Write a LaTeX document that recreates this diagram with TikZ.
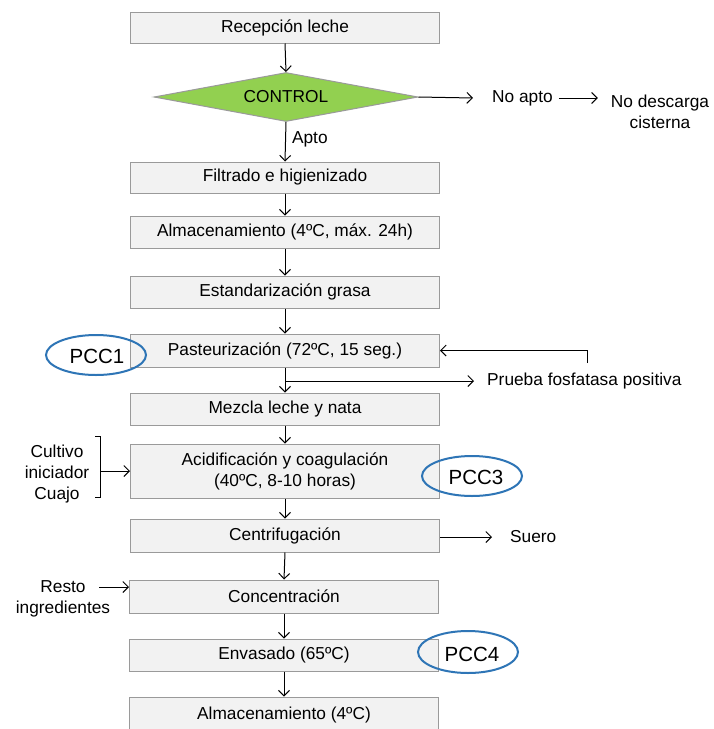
\documentclass[tikz,border=0pt]{standalone}
\usepackage{fontspec}
\setmainfont{Liberation Sans}
\usetikzlibrary{shapes.geometric,arrows.meta}
\definecolor{boxfill}{HTML}{F2F2F2}
\definecolor{boxline}{HTML}{9A9A9A}
\definecolor{ctrlgreen}{HTML}{92D050}
\definecolor{pccblue}{HTML}{2E75B6}
\tikzset{
  txt/.style={font=\fontsize{17.3}{21}\selectfont, inner sep=0pt, align=center},
  stepbox/.style={txt, rectangle, draw=boxline, line width=1pt, fill=boxfill,
    minimum width=309pt},
  arr/.style={line width=1pt, -{Straight Barb[length=5.5pt,width=11pt,line width=1pt]}},
  ln/.style={line width=1pt},
  pcc/.style={ellipse, draw=pccblue, line width=2pt, minimum width=100pt,
    minimum height=40pt, inner sep=0pt},
  pcctxt/.style={font=\fontsize{20.5}{24}\selectfont, inner sep=0pt}
}
\begin{document}
\begin{tikzpicture}[x=1pt,y=-1pt]
\clip (0,0) rectangle (713,729);
\fill[white] (0,0) rectangle (713,729);

% main process column
\node[stepbox, minimum height=31pt] (rec) at (285,27.5) {Recepción leche};
\node[txt, diamond, draw=boxline, line width=1pt, fill=ctrlgreen, aspect=5.5,
  minimum width=264pt, minimum height=49pt] (ctrl) at (286,97) {CONTROL};
\node[stepbox, minimum height=31pt] (filt) at (285,177.5) {Filtrado e higienizado};
\node[stepbox, minimum height=32pt] (alm1) at (285,232) {Almacenamiento (4ºC, máx. 24h)};
\node[stepbox, minimum height=32pt] (est) at (285,292) {Estandarización grasa};
\node[stepbox, minimum height=33pt] (past) at (285,350.5) {Pasteurización (72ºC, 15 seg.)};
\node[stepbox, minimum height=32pt] (mez) at (285,409) {Mezcla leche y nata};
\node[stepbox, minimum height=54pt] (acid) at (285,471) {Acidificación y coagulación\\(40ºC, 8-10 horas)};
\node[stepbox, minimum height=33pt] (cent) at (285,535.5) {Centrifugación};
\node[stepbox, minimum height=33pt] (conc) at (284,596.5) {Concentración};
\node[stepbox, minimum height=32pt] (env) at (284,655) {Envasado (65ºC)};
\node[stepbox, minimum height=42pt] (alm2) at (284,718) {};
\node[txt] (alm2t) at (284,715) {Almacenamiento (4ºC)};

% flow arrows
\draw[arr] (rec.south) -- (ctrl.north);
\draw[arr] (ctrl.south) -- node[txt, anchor=west, xshift=6pt, pos=0.45] (apto) {Apto} (filt.north);
\draw[arr] (filt.south) -- (alm1.north);
\draw[arr] (alm1.south) -- (est.north);
\draw[arr] (est.south) -- (past.north);
\draw[arr] (past.south) -- (mez.north);
\draw[arr] (mez.south) -- (acid.north);
\draw[arr] (acid.south) -- (cent.north);
\draw[arr] (cent.south) -- (conc.north);
\draw[arr] (conc.south) -- (env.north);
\draw[arr] (env.south) -- (alm2.north);

% rejection branch
\node[txt, anchor=west] (napto) at (492,98) {No apto};
\node[txt] (ndesc) at (660,112) {No descarga\\cisterna};
\draw[arr] (ctrl.east) -- ([xshift=-19pt]napto.west);
\draw[arr] ([xshift=6pt]napto.east) -- ([xshift=-13pt]ndesc.west |- napto.east);

% phosphatase test and reprocessing loop
\node[txt, anchor=west] (prueba) at (487,381) {Prueba fosfatasa positiva};
\coordinate (pbranch) at (285,381);
\draw[arr] (pbranch) -- ([xshift=-13pt]prueba.west);
\coordinate (fb) at (587,363);
\draw[arr] (fb) |- (past.east);

% whey output
\node[txt, anchor=west] (suero) at (510,537) {Suero};
\draw[arr] (cent.east |- suero.west) -- ([xshift=-18pt]suero.west);

% cultures and rennet input
\node[txt] (cult) at (57,474) {Cultivo\\iniciador\\Cuajo};
\coordinate (brt) at (95,436);
\coordinate (brb) at (95,497);
\coordinate (brm) at (100,471);
\draw[ln] (brt) -- ++(5,0) -- ++(0,61) -- (brb);
\draw[arr] (brm) -- (acid.west |- brm);

% remaining ingredients input
\node[txt] (resto) at (63,599) {Resto\\ingredientes};
\coordinate (rst) at (99,587);
\draw[arr] (rst) -- (conc.west |- rst);

% critical control points
\node[pcc] (pcc1) at (96,355) {};
\node[pcctxt] at (97,356) {PCC1};
\node[pcc] (pcc3) at (472,476) {};
\node[pcctxt] at (476,477) {PCC3};
\node[pcc, minimum height=42pt] (pcc4) at (468,652) {};
\node[pcctxt] at (472,654) {PCC4};
\end{tikzpicture}
\end{document}
